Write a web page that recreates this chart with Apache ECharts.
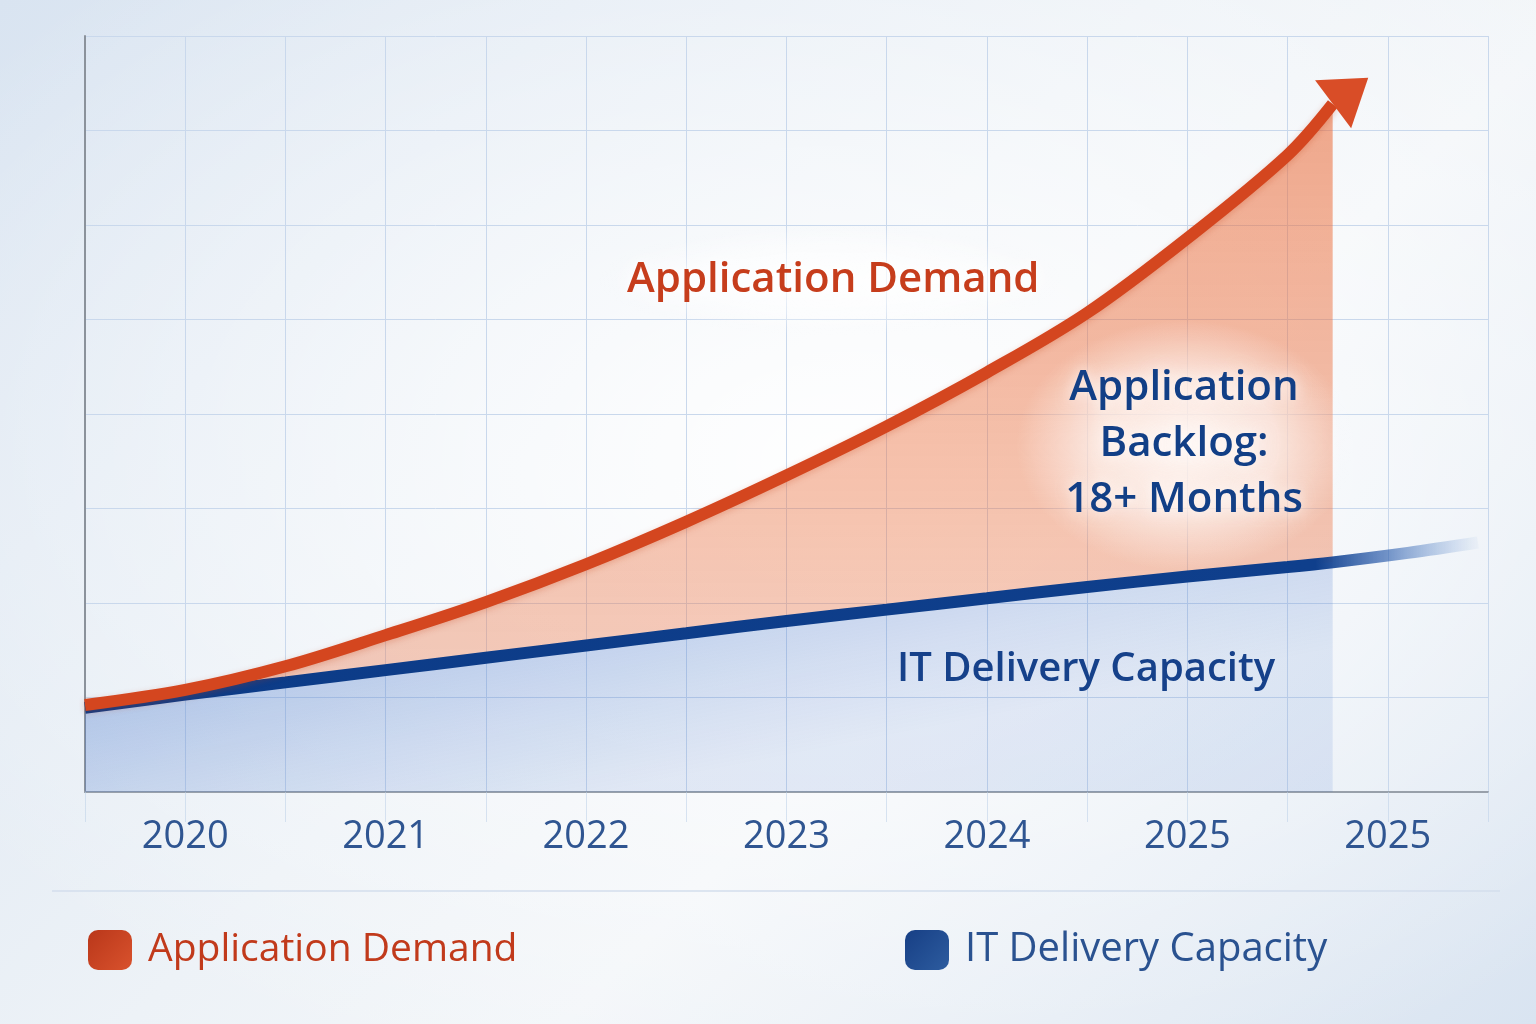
<!DOCTYPE html>
<html>
<head>
<meta charset="utf-8">
<title>Application Demand vs IT Delivery Capacity</title>
<script src="https://cdn.jsdelivr.net/npm/echarts@6/dist/echarts.min.js"></script>
<style>
  html, body { margin: 0; padding: 0; }
  body {
    width: 1536px; height: 1024px; overflow: hidden;
    background:
      radial-gradient(ellipse 70% 65% at 55% 45%, rgba(255,255,255,0.95) 0%, rgba(255,255,255,0) 100%),
      linear-gradient(135deg, #d9e4f1 0%, #edf2f7 45%, #f3f6f9 62%, #d9e4f1 100%);
  }
  #chart { width: 1536px; height: 1024px; }
</style>
</head>
<body>
<div id="chart"></div>
<script>
const FONT = '"Open Sans", "Noto Sans", sans-serif'

// year labels sit on every second grid step
const yearLabels = ['2020', '2021', '2022', '2023', '2024', '2025', '2025']

// x positions in grid steps
const steps = [0, 1, 2, 3, 4, 5, 6, 7, 8, 9, 10, 11, 12, 12.45]
const demand = [0.92, 1.08, 1.33, 1.66, 2.01, 2.41, 2.86, 3.35, 3.87, 4.44, 5.07, 5.86, 6.74, 7.28]
const capacity = [0.89, 1.03, 1.16, 1.29, 1.42, 1.55, 1.68, 1.81, 1.93, 2.05, 2.17, 2.28, 2.38, 2.43]
// capacity line keeps going past the shaded part and fades out
const tailSteps = [13.2, 13.9]
const capacityTail = [2.53, 2.64]

const pairs = (xs, ys) => xs.map((x, i) => [x, ys[i]])
// value first, x second: so the stack sums the values, not the x positions
const stackRows = (xs, ys) => xs.map((x, i) => [ys[i], x])

const gap = demand.map((d, i) => +(d - capacity[i]).toFixed(3))
const capLinePts = pairs(steps, capacity).concat(pairs(tailSteps, capacityTail))
const demandPts = pairs(steps, demand).map((p, i, arr) => {
  if (i < arr.length - 1) return p
  // arrow head on the last point
  return {
    value: p,
    symbol: 'triangle',
    symbolSize: [60, 44],
    symbolRotate: -53,
    symbolOffset: [18, -13],
    itemStyle: { color: '#d94d27' },
  }
})

const G = echarts.graphic

const chart = echarts.init(document.getElementById('chart'))

const option = {
  backgroundColor: 'transparent',
  animation: false,
  grid: { left: 85, right: 48, top: 36, bottom: 232 },
  xAxis: {
    type: 'value',
    min: 0,
    max: 14,
    interval: 1,
    axisLine: { onZero: false, lineStyle: { color: '#98a0aa', width: 2 } },
    axisTick: { show: true, length: 30, lineStyle: { color: 'rgba(188,207,232,0.55)', width: 1 } },
    splitLine: { show: true, lineStyle: { color: '#c9d8ec', width: 1 } },
    axisLabel: {
      margin: 26,
      fontFamily: FONT,
      fontSize: 38,
      color: '#2f5591',
      formatter: v => (v % 2 === 1 ? yearLabels[(v - 1) / 2] : ''),
    },
  },
  yAxis: {
    type: 'value',
    min: 0,
    max: 8,
    interval: 1,
    axisLine: { show: true, lineStyle: { color: '#8b929b', width: 2 } },
    axisTick: { show: false },
    axisLabel: { show: false },
    splitLine: { show: true, lineStyle: { color: '#c9d8ec', width: 1 } },
  },
  legend: [
    {
      left: 88, top: 930, padding: 0,
      itemWidth: 44, itemHeight: 40,
      icon: 'roundRect', selectedMode: false,
      data: [{
        name: 'Application Demand',
        itemStyle: {
          borderWidth: 0,
          color: new G.LinearGradient(0, 0, 1, 1, [
            { offset: 0, color: '#b9371a' },
            { offset: 1, color: '#d9522d' },
          ]),
        },
      }],
      textStyle: { fontFamily: FONT, fontSize: 39, color: '#c13a1b', padding: [0, 0, 0, 11] },
    },
    {
      left: 905, top: 930, padding: 0,
      itemWidth: 44, itemHeight: 40,
      icon: 'roundRect', selectedMode: false,
      data: [{
        name: 'IT Delivery Capacity',
        itemStyle: {
          borderWidth: 0,
          color: new G.LinearGradient(0, 0, 1, 1, [
            { offset: 0, color: '#173f85' },
            { offset: 1, color: '#2d5c9f' },
          ]),
        },
      }],
      textStyle: { fontFamily: FONT, fontSize: 40, color: '#2a5290', padding: [0, 0, 0, 11] },
    },
  ],
  series: [
    {
      name: 'capacity area',
      type: 'line',
      stack: 'gap',
      smooth: 0.35,
      symbol: 'none',
      z: 2,
      data: stackRows(steps, capacity),
      encode: { x: 1, y: 0 },
      lineStyle: { width: 0, opacity: 0 },
      areaStyle: {
        color: new G.LinearGradient(190, 649, 232, 864, [
          { offset: 0, color: 'rgba(60,110,200,0.52)' },
          { offset: 0.6, color: 'rgba(60,110,200,0.30)' },
          { offset: 1, color: 'rgba(60,110,200,0.18)' },
        ], true),
      },
      emphasis: { disabled: true },
    },
    {
      name: 'backlog area',
      type: 'line',
      stack: 'gap',
      smooth: 0.35,
      symbol: 'none',
      z: 2,
      data: stackRows(steps, gap),
      encode: { x: 1, y: 0 },
      lineStyle: { width: 0, opacity: 0 },
      areaStyle: {
        color: new G.LinearGradient(0, 0, 0, 1, [
          { offset: 0, color: 'rgba(234,104,52,0.80)' },
          { offset: 0.4, color: 'rgba(235,110,60,0.68)' },
          { offset: 0.8, color: 'rgba(236,118,70,0.56)' },
          { offset: 1, color: 'rgba(237,122,78,0.52)' },
        ]),
      },
      emphasis: { disabled: true },
    },
    {
      name: 'IT Delivery Capacity',
      type: 'line',
      smooth: 0.35,
      symbol: 'none',
      z: 4,
      data: capLinePts,
      itemStyle: { color: '#123f87' },
      lineStyle: {
        width: 12,
        color: new G.LinearGradient(0, 0, 1, 0, [
          { offset: 0, color: '#0c3b87' },
          { offset: 0.88, color: '#0f3f8c' },
          { offset: 0.93, color: 'rgba(40,90,170,0.65)' },
          { offset: 1, color: 'rgba(90,140,210,0)' },
        ]),
      },
      emphasis: { disabled: true },
    },
    {
      name: 'Application Demand',
      type: 'line',
      smooth: 0.35,
      symbol: 'none',
      showSymbol: true,
      z: 5,
      data: demandPts,
      itemStyle: { color: '#d4461f' },
      lineStyle: {
        width: 12,
        color: '#d4461f',
        shadowColor: 'rgba(190,60,20,0.25)',
        shadowBlur: 6,
        shadowOffsetY: 2,
      },
      emphasis: { disabled: true },
    },
  ],
  graphic: [
    // soft white glow behind the backlog text
    {
      type: 'circle', x: 1185, y: 445, scaleX: 1.35, z: 3, silent: true,
      shape: { cx: 0, cy: 0, r: 125 },
      style: {
        fill: new G.RadialGradient(0.5, 0.5, 0.5, [
          { offset: 0, color: 'rgba(255,255,255,0.85)' },
          { offset: 0.55, color: 'rgba(255,255,255,0.58)' },
          { offset: 1, color: 'rgba(255,255,255,0)' },
        ]),
      },
    },
    {
      type: 'circle', x: 830, y: 280, scaleX: 4.2, z: 3, silent: true,
      shape: { cx: 0, cy: 0, r: 55 },
      style: {
        fill: new G.RadialGradient(0.5, 0.5, 0.5, [
          { offset: 0, color: 'rgba(255,255,255,0.75)' },
          { offset: 0.6, color: 'rgba(255,255,255,0.45)' },
          { offset: 1, color: 'rgba(255,255,255,0)' },
        ]),
      },
    },
    {
      type: 'text', x: 627, y: 280, z: 6, silent: true,
      style: {
        text: 'Application Demand',
        font: `600 42px ${FONT}`,
        fill: '#c63d1c',
        align: 'left',
        verticalAlign: 'middle',
        textShadowColor: 'rgba(255,255,255,0.9)',
        textShadowBlur: 14,
      },
    },
    {
      type: 'text', x: 1184, y: 444, z: 6, silent: true,
      style: {
        text: 'Application\nBacklog:\n18+ Months',
        font: `600 42px ${FONT}`,
        lineHeight: 56,
        fill: '#123f86',
        align: 'center',
        verticalAlign: 'middle',
        textShadowColor: 'rgba(255,255,255,0.9)',
        textShadowBlur: 14,
      },
    },
    {
      type: 'text', x: 897, y: 670, z: 6, silent: true,
      style: {
        text: 'IT Delivery Capacity',
        font: `600 40px ${FONT}`,
        fill: '#16418a',
        align: 'left',
        verticalAlign: 'middle',
      },
    },
    {
      type: 'line', z: 1, silent: true,
      shape: { x1: 52, y1: 891, x2: 1500, y2: 891 },
      style: { stroke: '#d3deec', lineWidth: 1.5 },
    },
  ],
}

chart.setOption(option)
window.addEventListener('resize', () => chart.resize())
</script>
</body>
</html>
